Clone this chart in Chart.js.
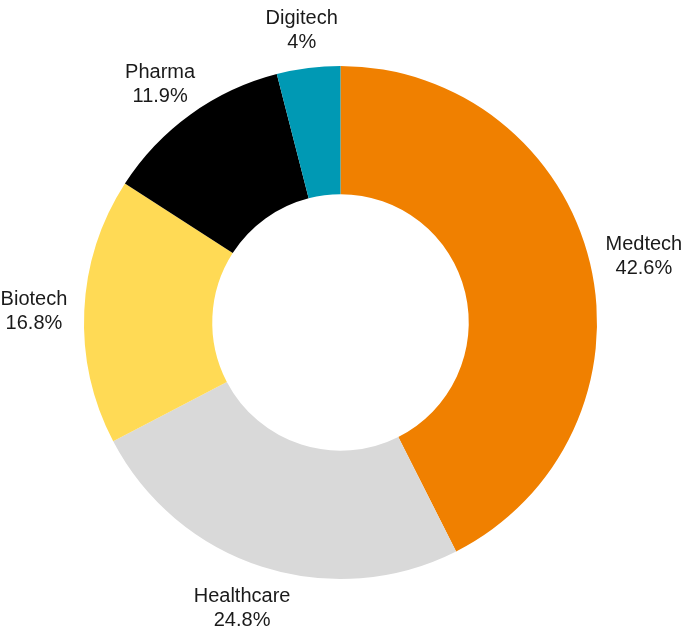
<!DOCTYPE html>
<html>
<head>
<meta charset="utf-8">
<script src="https://cdn.jsdelivr.net/npm/chart.js@4"></script>
<style>
  html, body { margin: 0; padding: 0; background: #fff; }
  #wrap { width: 681px; height: 632px; }
</style>
</head>
<body>
<div id="wrap"><canvas id="myChart" width="681" height="632"></canvas></div>
<script>
const labels = ["Medtech", "Healthcare", "Biotech", "Pharma", "Digitech"];
const values = [42.6, 24.8, 16.8, 11.9, 4];
const colors = ["#F08000", "#D9D9D9", "#FFDA55", "#000000", "#0099B4"];

// draws "name / value%" outside each slice
const outsideLabels = {
    id: 'outsideLabels',
    afterDraw(chart) {
        const ctx = chart.ctx;
        const meta = chart.getDatasetMeta(0);
        ctx.save();
        ctx.font = '20px "Liberation Sans", Arial, sans-serif';
        ctx.fillStyle = '#1a1a1a';
        ctx.textAlign = 'center';
        ctx.textBaseline = 'middle';
        const lineH = 24;
        meta.data.forEach((arc, i) => {
            const mid = (arc.startAngle + arc.endAngle) / 2;
            const dx = Math.cos(mid), dy = Math.sin(mid);
            const l1 = labels[i], l2 = values[i] + '%';
            const w = Math.max(ctx.measureText(l1).width, ctx.measureText(l2).width);
            const h = lineH * 2;
            const r = arc.outerRadius + 17;
            const cx = arc.x + r * dx + dx * w / 2;
            const cy = arc.y + r * dy + dy * h / 2 + 3;
            ctx.fillText(l1, cx, cy - lineH / 2);
            ctx.fillText(l2, cx, cy + lineH / 2);
        });
        ctx.restore();
    }
};

const ctx = document.getElementById('myChart').getContext('2d');
new Chart(ctx, {
    type: 'doughnut',
    data: {
        labels: labels,
        datasets: [{
            data: values,
            backgroundColor: colors,
            borderWidth: 0
        }]
    },
    options: {
        responsive: false,
        animation: false,
        cutout: '50%',
        layout: { padding: { top: 66, bottom: 53, left: 84, right: 84 } },
        plugins: {
            legend: { display: false },
            tooltip: { enabled: false }
        }
    },
    plugins: [outsideLabels]
});
</script>
</body>
</html>
